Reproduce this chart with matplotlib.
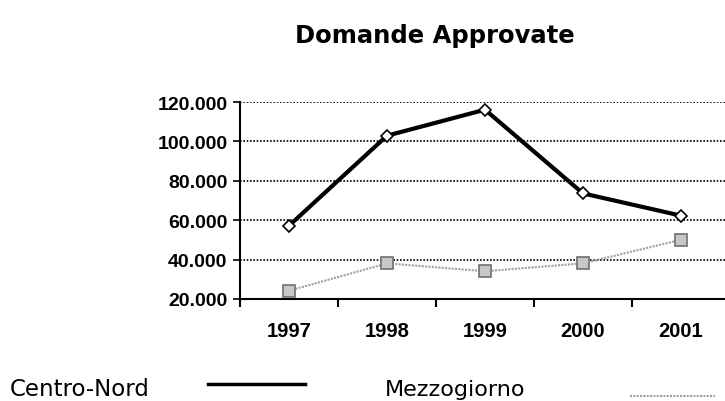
import matplotlib.pyplot as plt
from matplotlib.ticker import FuncFormatter

years = ['1997', '1998', '1999', '2000', '2001']
centro_nord = [57200, 102900, 116100, 73600, 62300]
mezzogiorno = [24200, 38100, 34100, 38100, 50100]
yticks = [20000, 40000, 60000, 80000, 100000, 120000]

plt.rcParams['font.family'] = 'Liberation Sans'

fig = plt.figure(figsize=(7.25, 4.02), dpi=100)
W, H = 725, 402
ax = fig.add_axes([240 / W, 1 - 300 / H, 490 / W, 197 / H])

x = range(len(years))
ax.plot(x, centro_nord, color='black', lw=3, marker='D', ms=6,
        mfc='white', mec='black', mew=1.2, zorder=3)
ax.plot(x, mezzogiorno, color='#a0a0a0', lw=1.5, ls=(0, (1, 0.6)), marker='s', ms=9,
        mfc='#c8c8c8', mec='#707070', mew=1.2, zorder=3)

ax.set_xlim(-0.5, 4.5)
ax.set_ylim(20000, 120000)
ax.set_yticks(yticks)
ax.yaxis.set_major_formatter(FuncFormatter(lambda v, p: f'{int(v):,}'.replace(',', '.')))
ax.set_xticks([i + 0.5 for i in range(-1, 5)], minor=False)
ax.set_xticklabels([])
ax.set_xticks(list(x), minor=True)
ax.set_xticklabels(years, minor=True, fontweight='bold', fontsize=14.5)
ax.tick_params(axis='x', which='major', length=6, width=1.5, direction='out')
ax.tick_params(axis='x', which='minor', length=0, pad=16)
ax.tick_params(axis='y', length=5, width=1.2, pad=4, labelsize=14)
plt.setp(ax.get_yticklabels(), fontweight='bold')

ax.grid(axis='y', color='black', ls=(0, (1, 1)), lw=1.2)
for s in ['top', 'right']:
    ax.spines[s].set_visible(False)
ax.spines['left'].set_linewidth(1.5)
ax.spines['bottom'].set_linewidth(1.5)

fig.text(435 / W, 1 - 36 / H, 'Domande Approvate', ha='center', va='center',
         fontsize=17.5, fontweight='bold', family='DejaVu Sans')

fig.text(10 / W, 1 - 390 / H, 'Centro-Nord', ha='left', va='center', fontsize=16.5, family='DejaVu Sans')
fig.text(385 / W, 1 - 390 / H, 'Mezzogiorno', ha='left', va='center', fontsize=16, family='DejaVu Sans')
fig.add_artist(plt.Line2D([208 / W, 305 / W], [1 - 385 / H, 1 - 385 / H], color='black', lw=2.5))
fig.add_artist(plt.Line2D([630 / W, 715 / W], [1 - 397 / H, 1 - 397 / H], color='#a0a0a0',
                          lw=1.5, ls=(0, (1, 0.6))))

fig.savefig('out.png', dpi=100)
